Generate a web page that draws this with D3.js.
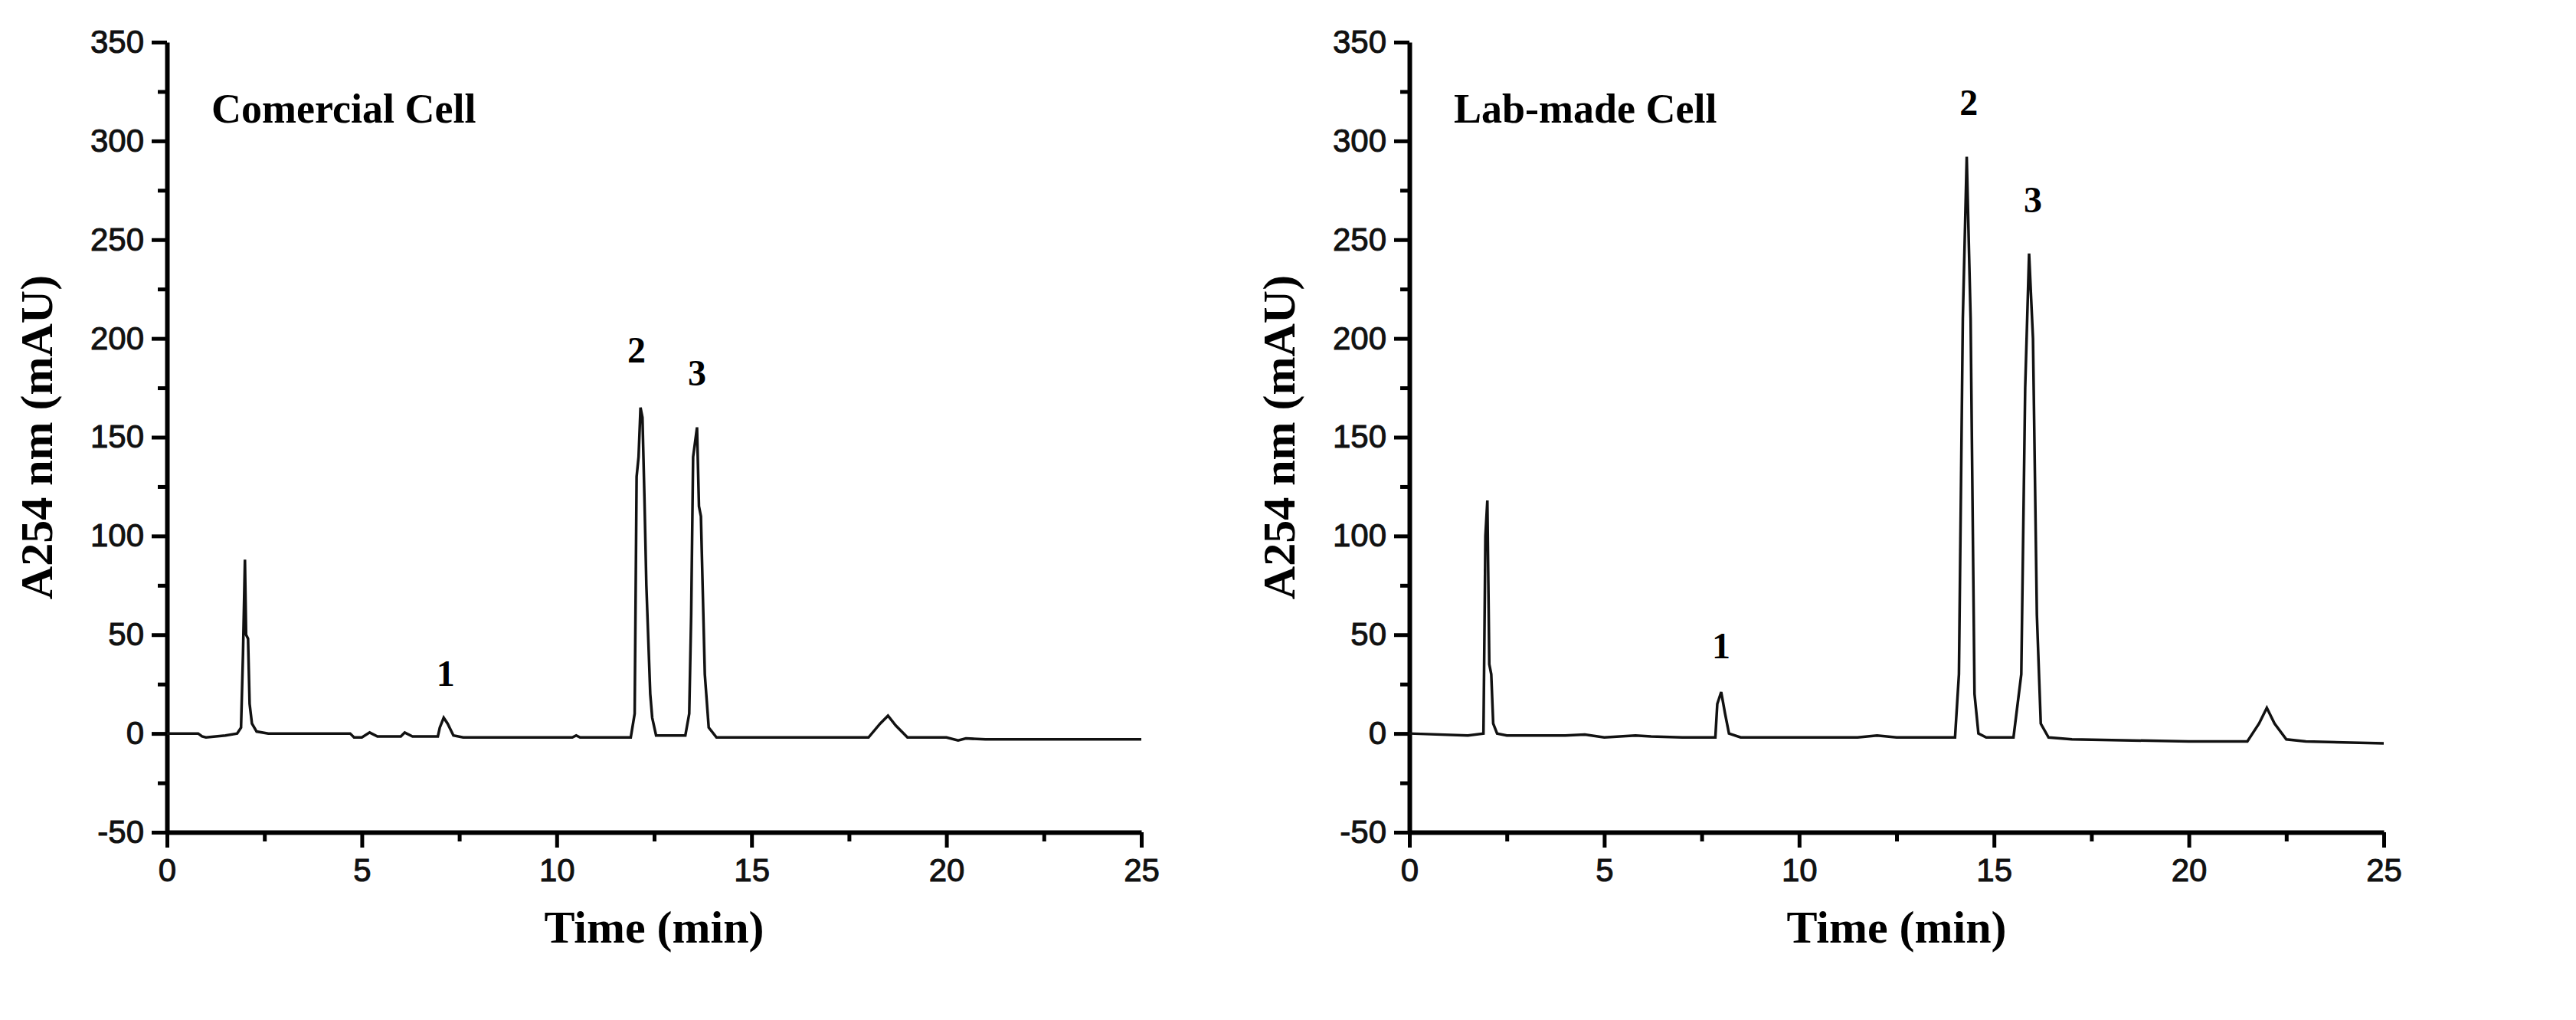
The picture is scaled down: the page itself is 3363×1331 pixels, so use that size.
<!DOCTYPE html>
<html><head><meta charset="utf-8">
<script src="https://cdn.jsdelivr.net/npm/d3@7"></script>
<style>body{margin:0;background:#fff}</style>
</head><body>
<div id="chart"></div>
<script>
const W = 3363, H = 1331;

// retention time (min) and absorbance (mAU)
const timeA = [0,0.8,0.9,1.0,1.5,1.8,1.9,1.95,2.0,2.03,2.08,2.12,2.18,2.3,2.6,4.7,4.8,5.0,5.2,5.4,6.0,6.1,6.3,6.95,7.0,7.1,7.2,7.35,7.6,10.4,10.5,10.6,11.9,12.0,12.05,12.1,12.15,12.2,12.25,12.3,12.4,12.45,12.55,13.3,13.4,13.45,13.5,13.6,13.65,13.7,13.8,13.9,14.1,18.0,18.3,18.5,18.7,19.0,20.0,20.3,20.5,21.0,25];
const valA  = [0,0,-1.5,-2,-1,0,3,40,88,50,48,15,5,1,0,0,-2,-2,0.5,-1.5,-1.5,0.5,-1.5,-1.5,3,8,5,-1,-2,-2,-1,-2,-2,10,130,140,165,160,120,75,20,8,-1,-1,10,60,140,155,115,110,30,3,-2,-2,5,9,4,-2,-2,-3.5,-2.5,-3,-3];
const timeB = [0,1.5,1.9,1.95,2.0,2.05,2.1,2.15,2.25,2.5,4.0,4.5,5.0,5.8,6.2,7.0,7.85,7.9,8.0,8.1,8.2,8.5,11.5,12.0,12.5,14.0,14.1,14.2,14.3,14.4,14.5,14.6,14.8,15.5,15.7,15.8,15.9,16.0,16.1,16.2,16.4,17.0,20.0,21.5,21.8,22.0,22.2,22.5,23.0,25];
const valB  = [0,-1,0,100,118,35,30,5,0,-1,-1,-0.5,-2,-1,-1.5,-2,-2,15,21,10,0,-2,-2,-1,-2,-2,30,210,292,210,20,0,-2,-2,30,175,243,200,60,5,-2,-3,-4,-4,5,13,5,-3,-4,-5];
const xTicks = [0,5,10,15,20,25];
const yTicks = [-50,0,50,100,150,200,250,300,350];
const panels = [
  {title:"Comercial Cell", t:timeA, v:valA, labels:[{n:"1",x:7.15,y:24},{n:"2",x:12.05,y:188},{n:"3",x:13.6,y:176}]},
  {title:"Lab-made Cell", t:timeB, v:valB, labels:[{n:"1",x:8.0,y:38},{n:"2",x:14.35,y:313},{n:"3",x:16.0,y:264}]}
];
const offsets = [218, 1840];

const svg = d3.select("#chart").append("svg").attr("width", W).attr("height", H);
const serif = "'Liberation Serif','Times New Roman',serif";

panels.forEach((p, i) => {
  const x = d3.scaleLinear().domain([0,25]).range([offsets[i], offsets[i] + 1272]);
  const y = d3.scaleLinear().domain([-50,350]).range([1086, 55]);
  const g = svg.append("g");

  // minor ticks
  g.append("g").attr("transform", `translate(0,${y(-50)})`)
    .call(d3.axisBottom(x).tickValues(d3.range(2.5,25,5)).tickSize(12).tickFormat(""))
    .call(a => a.select(".domain").remove()).selectAll("line").attr("stroke-width",5);
  g.append("g").attr("transform", `translate(${x(0)},0)`)
    .call(d3.axisLeft(y).tickValues(d3.range(-25,350,50)).tickSize(12).tickFormat(""))
    .call(a => a.select(".domain").remove()).selectAll("line").attr("stroke-width",5);

  const ax = g.append("g").attr("transform", `translate(0,${y(-50)})`)
    .call(d3.axisBottom(x).tickValues(xTicks).tickSize(20).tickSizeOuter(0).tickPadding(14));
  const ay = g.append("g").attr("transform", `translate(${x(0)},0)`)
    .call(d3.axisLeft(y).tickValues(yTicks).tickSize(20).tickSizeOuter(0).tickPadding(10).tickFormat(d => String(d)));
  [ax, ay].forEach(a => {
    a.select(".domain").attr("stroke-width", 6);
    a.selectAll("line").attr("stroke-width", 5);
    a.selectAll("text").attr("font-family", "'Liberation Sans Narrow','Liberation Sans',Arial,sans-serif")
      .attr("font-size", 42).attr("fill", "#111").attr("stroke", "#111").attr("stroke-width", 1);
  });

  g.append("path").datum(p.t.map((d, k) => [d, p.v[k]]))
    .attr("fill", "none").attr("stroke", "#111").attr("stroke-width", 3.5)
    .attr("d", d3.line().x(d => x(d[0])).y(d => y(d[1])));

  g.selectAll(".pk").data(p.labels).enter().append("text")
    .attr("x", d => x(d.x)).attr("y", d => y(d.y)).attr("text-anchor", "middle")
    .attr("font-family", serif).attr("font-weight", "bold").attr("font-size", 48).text(d => d.n);

  g.append("text").attr("x", x(0) + 58).attr("y", 160)
    .attr("font-family", serif).attr("font-weight", "bold").attr("font-size", 54).text(p.title);
  g.append("text").attr("x", x(12.5)).attr("y", 1230).attr("text-anchor", "middle")
    .attr("font-family", serif).attr("font-weight", "bold").attr("font-size", 60).text("Time (min)");
  g.append("text").attr("transform", `translate(${x(0) - 150},${y(150)}) rotate(-90)`)
    .attr("text-anchor", "middle").attr("font-family", serif).attr("font-weight", "bold")
    .attr("font-size", 60).text("A254 nm (mAU)");
});
</script>
</body></html>
